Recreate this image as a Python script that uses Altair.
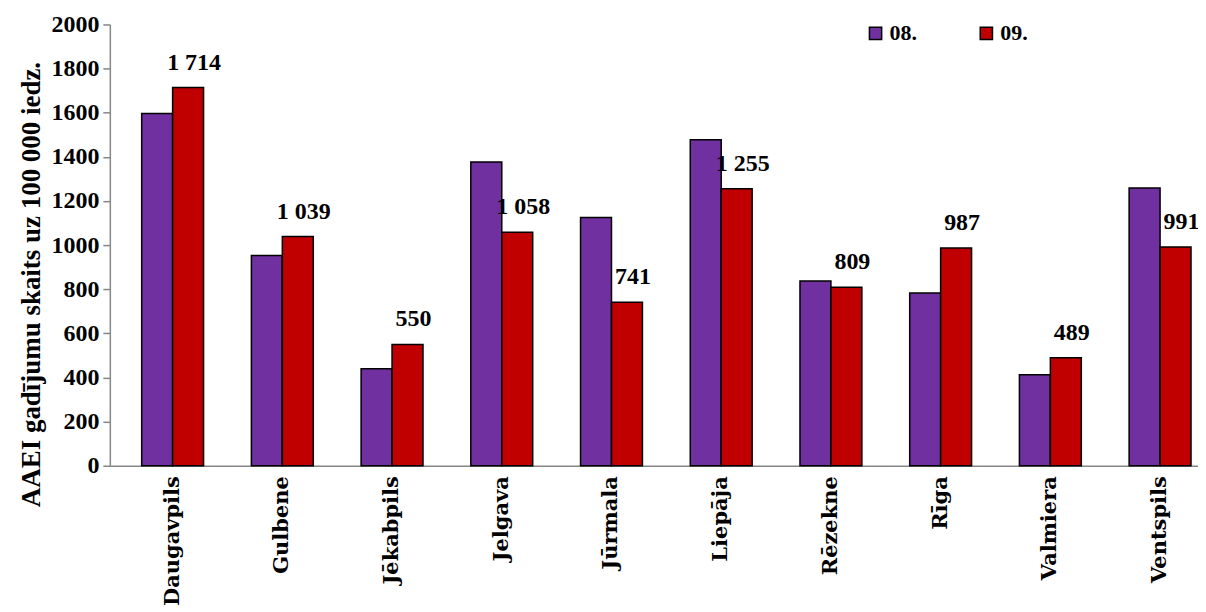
import altair as alt
import pandas as pd

cities = ["Daugavpils", "Gulbene", "Jēkabpils", "Jelgava", "Jūrmala",
          "Liepāja", "Rēzekne", "Rīga", "Valmiera", "Ventspils"]
vals_08 = [1597, 953, 440, 1377, 1125, 1477, 837, 783, 412, 1259]
vals_09 = [1714, 1039, 550, 1058, 741, 1255, 809, 987, 489, 991]
series = ["08.", "09."]
colors = ["#7030A0", "#C00000"]

rows = []
for c, a, b in zip(cities, vals_08, vals_09):
    rows.append({"city": c, "year": series[0], "v": a})
    rows.append({"city": c, "year": series[1], "v": b})
df = pd.DataFrame(rows)
lab = pd.DataFrame({"city": cities, "year": series[1], "v": vals_09,
                    "t": [f"{v:,}".replace(",", " ") for v in vals_09]})

FONT = "Liberation Serif"

xs = alt.X("city:N", sort=cities, title=None,
           scale=alt.Scale(paddingInner=0.436, paddingOuter=0.177, align=0.82),
           axis=alt.Axis(labelAngle=-90, labelFont="DejaVu Serif", labelFontSize=21,
                         labelFontWeight="bold", labelColor="black",
                         labelAlign="right", labelBaseline="middle",
                         labelPadding=10, ticks=False, domainColor="#868686",
                         domainWidth=1.5, labelLimit=300))
ys = alt.Y("v:Q", title="AAEI gadījumu skaits uz 100 000 iedz.",
           scale=alt.Scale(domain=[0, 2000], nice=False),
           axis=alt.Axis(values=list(range(0, 2001, 200)), grid=False, format="d",
                         labelFont=FONT, labelFontSize=24, labelFontWeight="bold",
                         labelColor="black", titleFont=FONT, titleFontSize=27,
                         titleFontWeight="bold", titleColor="black",
                         domainColor="#868686", domainWidth=1.5,
                         tickColor="#868686", tickSize=7, tickWidth=1.5,
                         labelPadding=4, titlePadding=5, titleY=260))

bars = alt.Chart(df).mark_bar(stroke="black", strokeWidth=1.5).encode(
    x=xs, y=ys,
    xOffset=alt.XOffset("year:N", sort=series, scale=alt.Scale(paddingInner=0, paddingOuter=0)),
    color=alt.Color("year:N", sort=series,
                    scale=alt.Scale(domain=series, range=colors),
                    legend=alt.Legend(title=None, orient="none", legendX=756, legendY=-2,
                                      direction="horizontal", symbolType="square",
                                      symbolSize=150, symbolStrokeColor="black",
                                      symbolStrokeWidth=1.5, labelFont=FONT,
                                      labelFontSize=22, labelFontWeight="bold",
                                      labelColor="black", columnPadding=58,
                                      labelOffset=3)),
)

labels = alt.Chart(lab).mark_text(font=FONT, fontSize=24, fontWeight="bold",
                                  color="black", dy=-18, dx=6, baseline="alphabetic").encode(
    x=alt.X("city:N", sort=cities),
    xOffset=alt.XOffset("year:N", sort=series),
    y=alt.Y("v:Q"),
    text="t:N",
)

chart = alt.layer(bars, labels).properties(
    width=1090, height=442, autosize="none",
    padding={"left": 102, "top": 16, "right": 0, "bottom": 140},
).configure_view(stroke=None).resolve_scale(xOffset="shared")

chart.save("out.html", embed_options={"renderer": "svg", "actions": False})
